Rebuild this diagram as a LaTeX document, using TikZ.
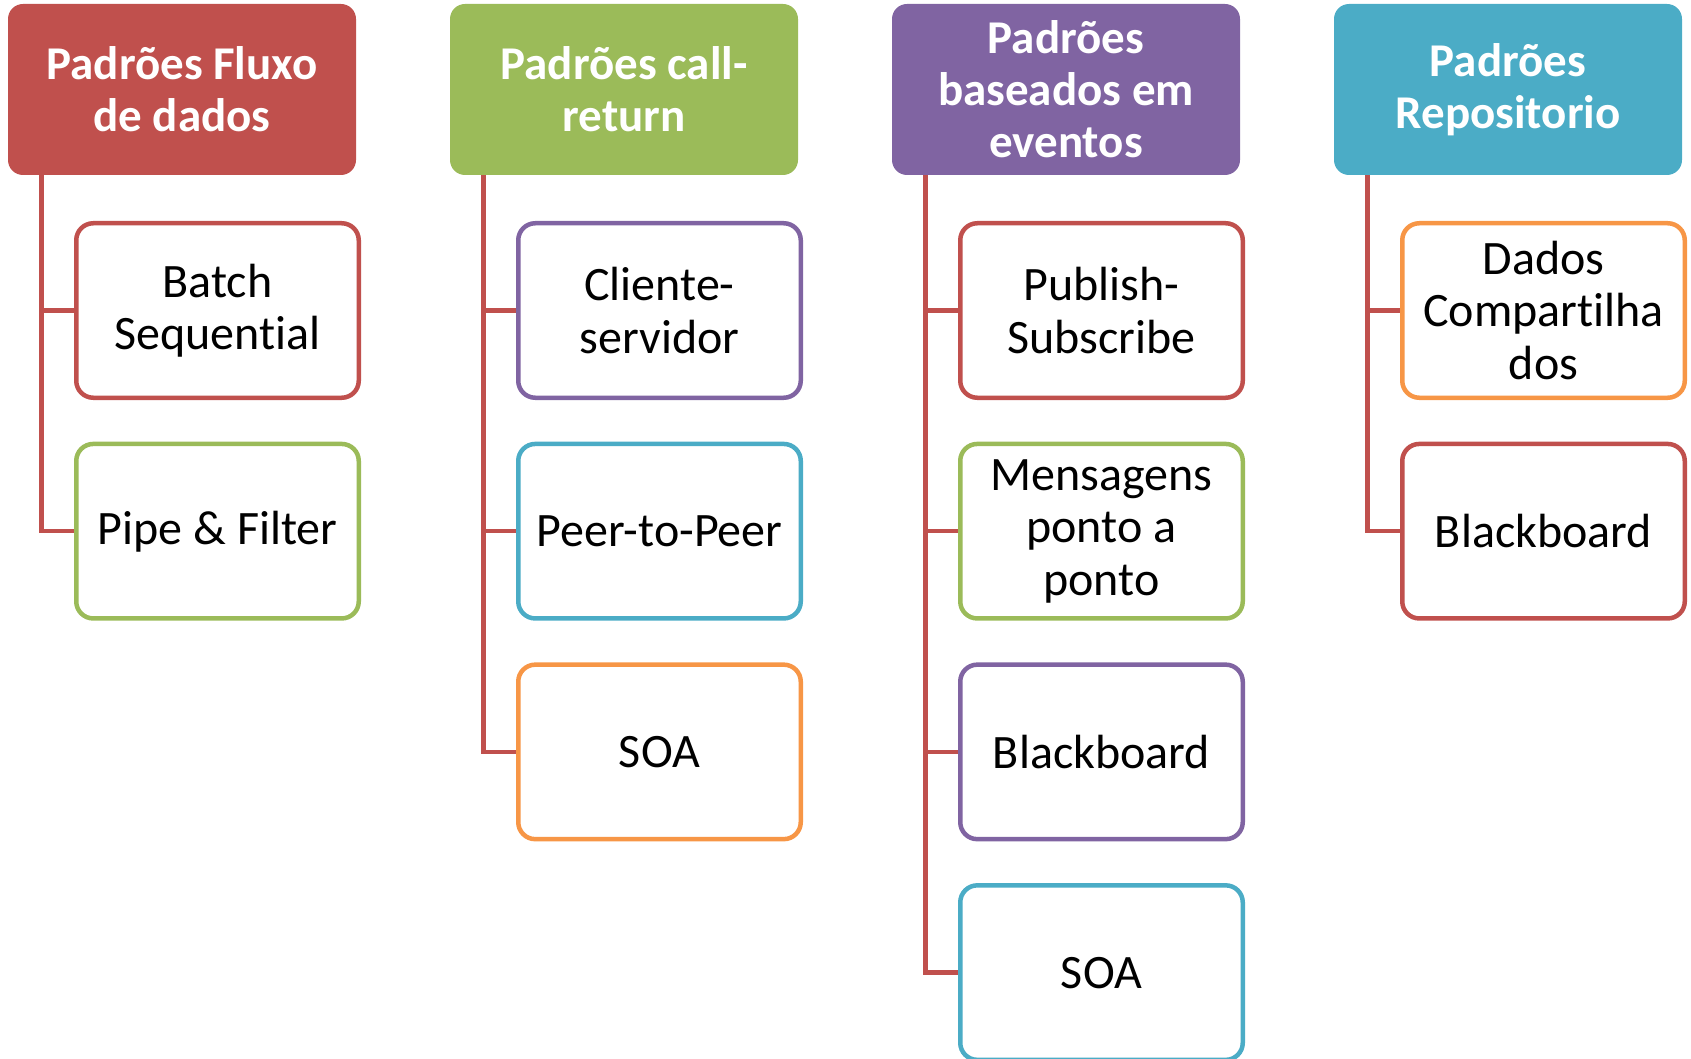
\documentclass[tikz,border=0pt]{standalone}
\usepackage{fontspec}
\setmainfont{Carlito}[Ligatures={TeX,NoCommon}]
\definecolor{cRed}{HTML}{C0504D}
\definecolor{cGreen}{HTML}{9BBB59}
\definecolor{cPurple}{HTML}{8064A2}
\definecolor{cTeal}{HTML}{4BACC6}
\definecolor{cOrange}{HTML}{F79646}
\tikzset{
  header/.style={fill=#1, draw=none, rounded corners=15pt, minimum width=348pt,
    minimum height=171pt, inner sep=0pt, text width=335pt, align=flush center,
    text=white, font=\fontsize{47}{52}\selectfont\bfseries,
    execute at begin node={\spaceskip=0pt\xspaceskip=0pt\relax}},
  child/.style={draw=#1, fill=white, line width=4.5pt, rounded corners=17pt,
    minimum width=282.5pt, minimum height=174.5pt, inner sep=0pt,
    text width=275pt, align=flush center, font=\fontsize{48}{52.5}\selectfont,
    execute at begin node={\spaceskip=0pt\xspaceskip=0pt\relax}},
  conn/.style={draw=cRed, line width=4.5pt},
}
\begin{document}
\begin{tikzpicture}[x=1pt, y=-1pt]
\useasboundingbox (0,0) rectangle (1691,1059);
\clip (0,0) rectangle (1691,1059);

% headers
\node[header=cRed]    (h1) at (182,89.5)  {Padrões Fluxo\\de dados};
\node[header=cGreen]  (h2) at (624,89.5)  {Padrões call-\\return};
\node[header=cPurple] (h3) at (1066,89.5) {Padrões\\baseados em\\eventos};
\node[header=cTeal]   (h4) at (1508,89.5) {Padrões\\Repositorio};

% top ends of the vertical connector lines
\coordinate (v1) at ([xshift=33.5pt]h1.south west);
\coordinate (v2) at ([xshift=33.5pt]h2.south west);
\coordinate (v3) at ([xshift=33.5pt]h3.south west);
\coordinate (v4) at ([xshift=33.5pt]h4.south west);

% children
\node[child=cRed]    (c11) at (217.5,310.5) {Batch\\Sequential};
\node[child=cGreen]  (c12) at (217.5,531.2) {Pipe \& Filter};

\node[child=cPurple] (c21) at (659.5,310.5) {Cliente-\\servidor};
\node[child=cTeal]   (c22) at (659.5,531.2) {Peer-to-Peer};
\node[child=cOrange] (c23) at (659.5,751.9) {SOA};

\node[child=cRed]    (c31) at (1101.5,310.5) {Publish-\\Subscribe};
\node[child=cGreen]  (c32) at (1101.5,531.2) {Mensagens\\ponto a\\ponto};
\node[child=cPurple] (c33) at (1101.5,751.9) {Blackboard};
\node[child=cTeal]   (c34) at (1101.5,972.6) {SOA};

\node[child=cOrange] (c41) at (1543.5,310.5) {Dados\\Compartilha\\dos};
\node[child=cRed]    (c42) at (1543.5,531.2) {Blackboard};

% elbow connectors from each header down to its children
\begin{scope}[line join=miter]
\draw[conn] (v1) |- (c11.west);
\draw[conn] (v1) |- (c12.west);
\draw[conn] (v2) |- (c21.west);
\draw[conn] (v2) |- (c22.west);
\draw[conn] (v2) |- (c23.west);
\draw[conn] (v3) |- (c31.west);
\draw[conn] (v3) |- (c32.west);
\draw[conn] (v3) |- (c33.west);
\draw[conn] (v3) |- (c34.west);
\draw[conn] (v4) |- (c41.west);
\draw[conn] (v4) |- (c42.west);
\end{scope}
\end{tikzpicture}
\end{document}
